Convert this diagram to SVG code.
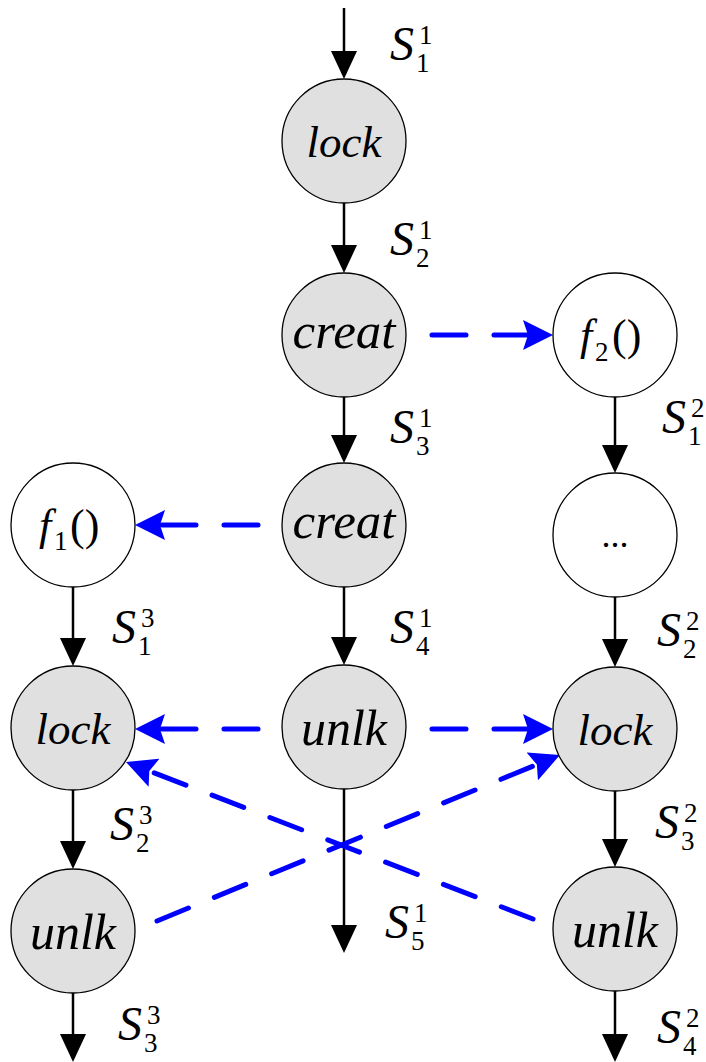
<svg xmlns="http://www.w3.org/2000/svg" width="706" height="1062" viewBox="0 0 706 1062">
<style>
.node circle{stroke:#000;stroke-width:1.3}
.g{fill:#e0e0e0}
.w{fill:#fff}
text{fill:#000}
.lbl{font-style:italic;text-anchor:middle}
.it{font-style:italic}
.S{font-size:48px;font-style:italic}
.ss{font-size:27px}
.flow{stroke:#000;stroke-width:2.5;fill:none;marker-end:url(#ab)}
.dep{stroke:#0000ff;stroke-width:5;fill:none;stroke-linecap:round;stroke-dasharray:34 28;marker-end:url(#ablue)}
</style>
<defs>
<marker id="ab" markerUnits="userSpaceOnUse" viewBox="0 0 28 26" refX="18" refY="13" markerWidth="28" markerHeight="26" orient="auto">
<path d="M0,0 L28,13 L0,26 z" fill="#000"/>
</marker>
<marker id="ablue" markerUnits="userSpaceOnUse" viewBox="0 0 30 30" refX="15" refY="15" markerWidth="30" markerHeight="30" orient="auto">
<path d="M0,0 L30,15 L0,30 L5,15 z" fill="#0000ff"/>
</marker>
</defs>
<g id="connectors">
<path class="flow" d="M344,8 L344,69"/>
<path class="flow" d="M344,203 L344,263"/>
<path class="flow" d="M344,397 L344,453"/>
<path class="flow" d="M344,587 L344,655"/>
<path class="flow" d="M344,789 L344,943"/>
<path class="flow" d="M73,587 L73,656"/>
<path class="flow" d="M73,790 L73,859"/>
<path class="flow" d="M73,993 L73,1052"/>
<path class="flow" d="M615,397 L615,463"/>
<path class="flow" d="M615,597 L615,657"/>
<path class="flow" d="M615,791 L615,857"/>
<path class="flow" d="M615,991 L615,1052"/>
<path class="dep" d="M432,335 L538,335"/>
<path class="dep" d="M258,525 L150,525"/>
<path class="dep" d="M258,729 L150,729"/>
<path class="dep" d="M432,729 L538,729"/>
<path class="dep" d="M157,921 L546.1,760.7"/>
<path class="dep" d="M533,919 L140,767.4"/>
</g>
<g font-family="Liberation Serif, serif">
<g id="n_lock1" class="node"><circle class="g" cx="344" cy="141" r="62"/><text class="lbl" x="344" y="157" font-size="45" font-family="Liberation Serif">lock</text></g>
<g id="n_creat1" class="node"><circle class="g" cx="344" cy="335" r="62"/><text class="lbl" x="344" y="348" font-size="51" font-family="Liberation Serif">creat</text></g>
<g id="n_creat2" class="node"><circle class="g" cx="344" cy="525" r="62"/><text class="lbl" x="344" y="538" font-size="51" font-family="Liberation Serif">creat</text></g>
<g id="n_unlk1" class="node"><circle class="g" cx="344" cy="727" r="62"/><text class="lbl" x="344" y="745" font-size="50" font-family="Liberation Serif">unlk</text></g>
<g id="n_f1" class="node"><circle class="w" cx="73" cy="525" r="62"/><text y="540" font-family="Liberation Serif"><tspan class="it" x="39" font-size="44">f</tspan><tspan x="54" y="550" font-size="27">1</tspan><tspan x="70" y="540" font-size="44">()</tspan></text></g>
<g id="n_lock2" class="node"><circle class="g" cx="73" cy="728" r="62"/><text class="lbl" x="73" y="744" font-size="45" font-family="Liberation Serif">lock</text></g>
<g id="n_unlk2" class="node"><circle class="g" cx="73" cy="931" r="62"/><text class="lbl" x="73" y="949" font-size="50" font-family="Liberation Serif">unlk</text></g>
<g id="n_f2" class="node"><circle class="w" cx="615" cy="335" r="62"/><text y="350" font-family="Liberation Serif"><tspan class="it" x="580" font-size="44">f</tspan><tspan x="595" y="361" font-size="27">2</tspan><tspan x="612" y="350" font-size="44">()</tspan></text></g>
<g id="n_dots" class="node"><circle class="w" cx="615" cy="535" r="62"/><text x="615" y="547" font-size="36" text-anchor="middle" font-family="Liberation Serif">...</text></g>
<g id="n_lock3" class="node"><circle class="g" cx="615" cy="729" r="62"/><text class="lbl" x="615" y="745" font-size="45" font-family="Liberation Serif">lock</text></g>
<g id="n_unlk3" class="node"><circle class="g" cx="615" cy="929" r="62"/><text class="lbl" x="615" y="947" font-size="50" font-family="Liberation Serif">unlk</text></g>
<g id="labels" font-family="Liberation Serif">
<text><tspan class="S" x="390" y="60">S</tspan><tspan class="ss" x="419" y="44">1</tspan><tspan class="ss" x="416" y="72">1</tspan></text>
<text><tspan class="S" x="390" y="255">S</tspan><tspan class="ss" x="419" y="239">1</tspan><tspan class="ss" x="416" y="267">2</tspan></text>
<text><tspan class="S" x="390" y="443">S</tspan><tspan class="ss" x="419" y="427">1</tspan><tspan class="ss" x="416" y="455">3</tspan></text>
<text><tspan class="S" x="390" y="643">S</tspan><tspan class="ss" x="419" y="627">1</tspan><tspan class="ss" x="416" y="655">4</tspan></text>
<text><tspan class="S" x="385" y="938">S</tspan><tspan class="ss" x="414" y="922">1</tspan><tspan class="ss" x="411" y="950">5</tspan></text>
<text><tspan class="S" x="662" y="433">S</tspan><tspan class="ss" x="691" y="417">2</tspan><tspan class="ss" x="688" y="445">1</tspan></text>
<text><tspan class="S" x="657" y="646">S</tspan><tspan class="ss" x="686" y="630">2</tspan><tspan class="ss" x="683" y="658">2</tspan></text>
<text><tspan class="S" x="655" y="838">S</tspan><tspan class="ss" x="684" y="822">2</tspan><tspan class="ss" x="681" y="850">3</tspan></text>
<text><tspan class="S" x="657" y="1043">S</tspan><tspan class="ss" x="686" y="1027">2</tspan><tspan class="ss" x="683" y="1055">4</tspan></text>
<text><tspan class="S" x="112" y="643">S</tspan><tspan class="ss" x="141" y="627">3</tspan><tspan class="ss" x="138" y="655">1</tspan></text>
<text><tspan class="S" x="110" y="840">S</tspan><tspan class="ss" x="139" y="824">3</tspan><tspan class="ss" x="136" y="852">2</tspan></text>
<text><tspan class="S" x="118" y="1040">S</tspan><tspan class="ss" x="147" y="1024">3</tspan><tspan class="ss" x="144" y="1052">3</tspan></text>
</g>
</g>
</svg>
